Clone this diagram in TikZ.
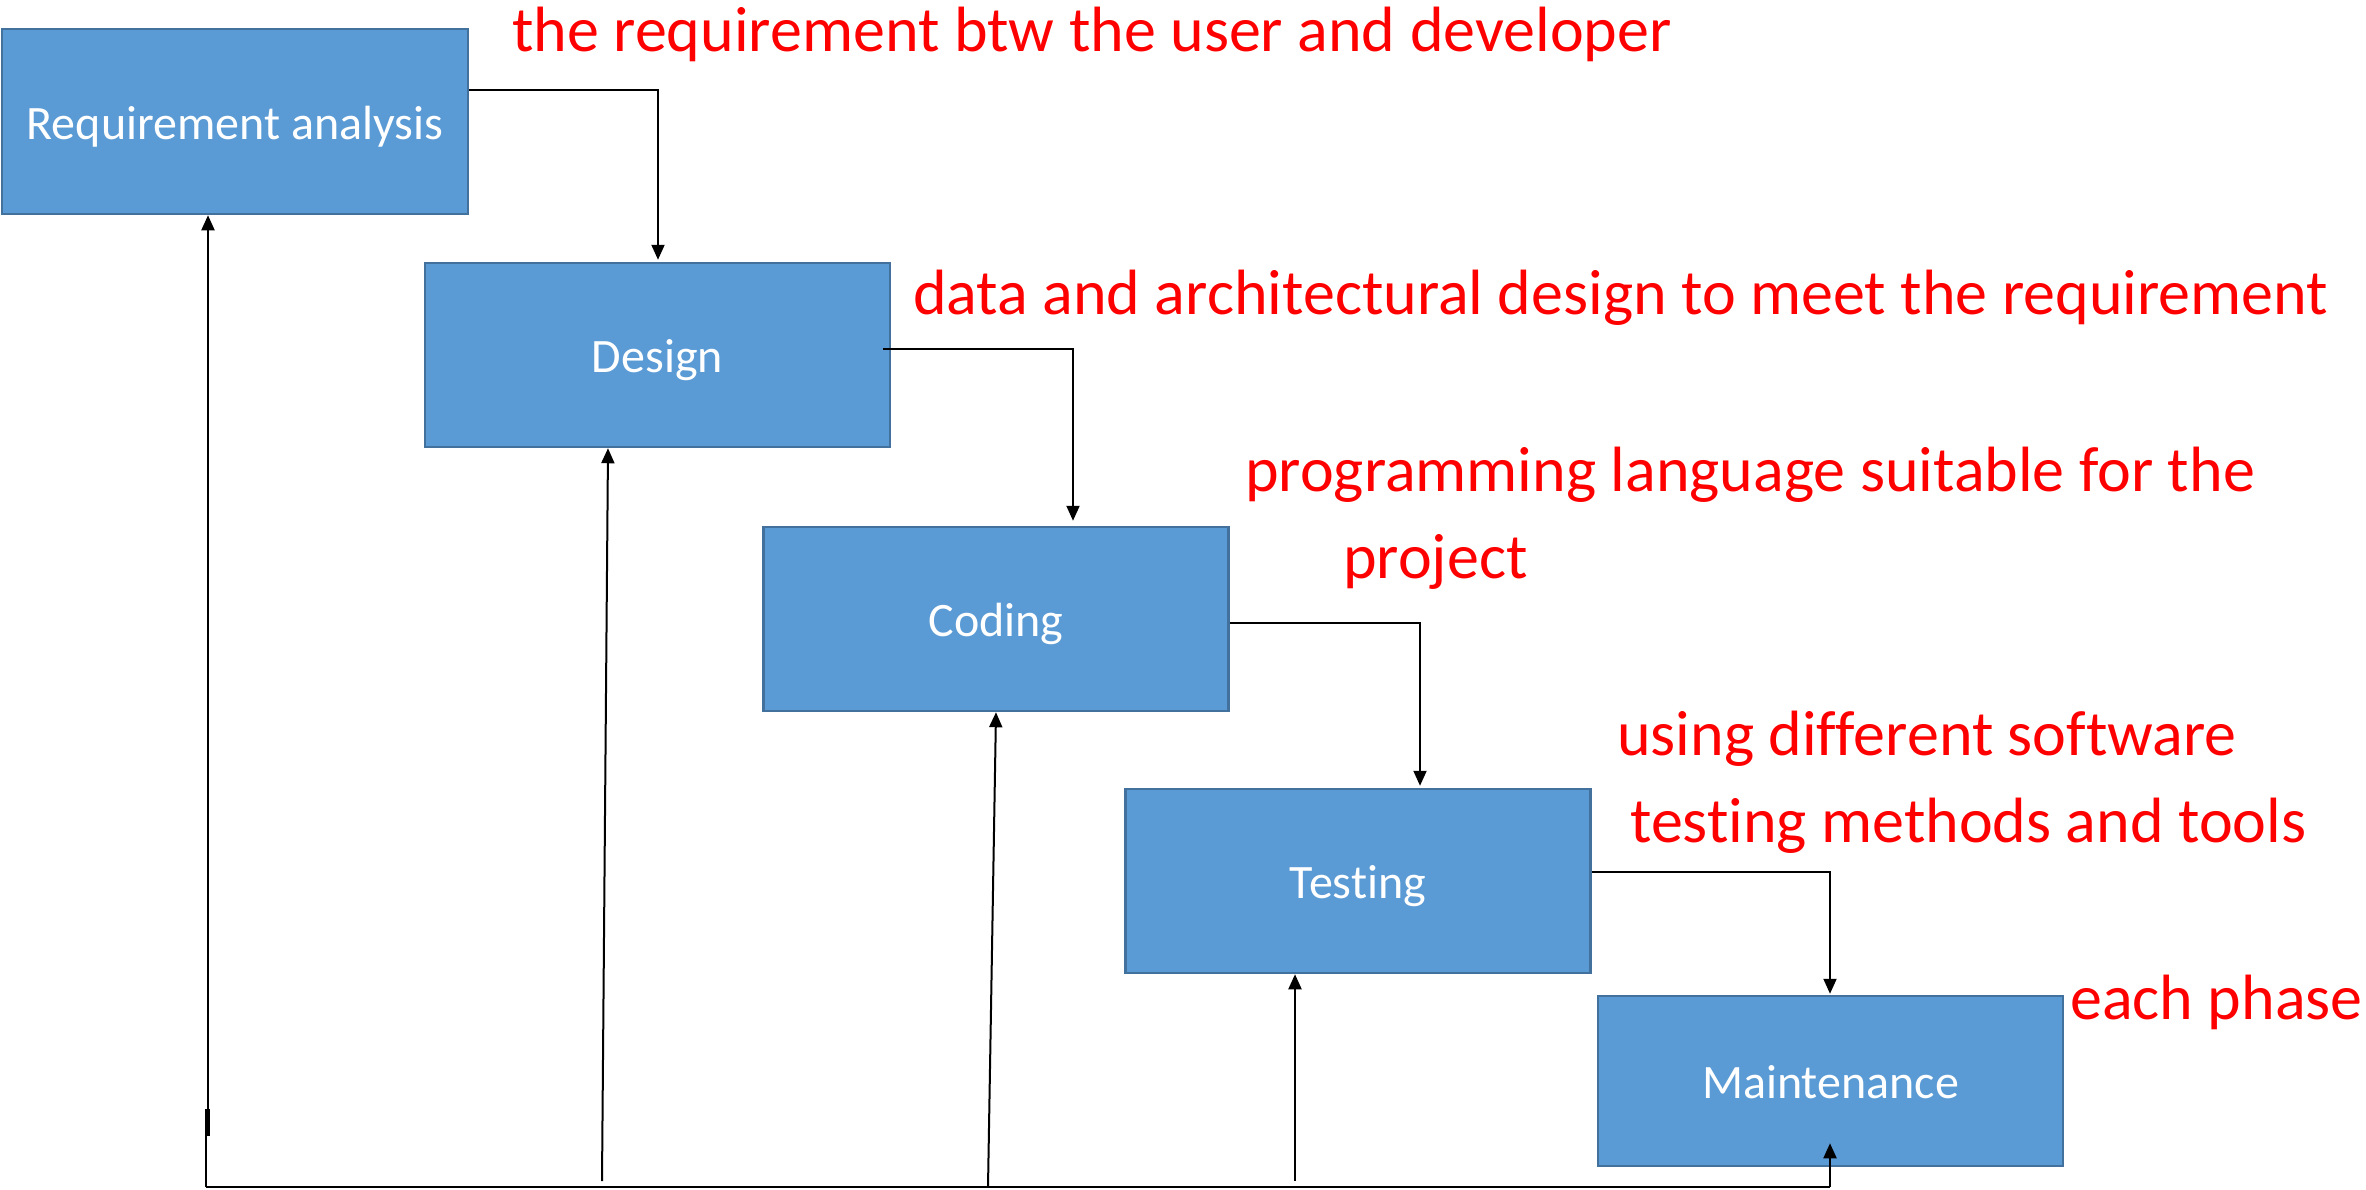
\documentclass[tikz,border=0pt]{standalone}
\usepackage{fontspec}
\setmainfont{Carlito}[RawFeature={-liga;-clig;-dlig;-calt;-rlig}]
\usetikzlibrary{arrows.meta}
\definecolor{phasefill}{HTML}{5B9BD5}
\definecolor{phaseedge}{HTML}{41719C}
\begin{document}
\begin{tikzpicture}[x=1pt,y=-1pt,
  phase/.style={draw=phaseedge, line width=2.5pt, fill=phasefill, text=white,
    font=\fontsize{48}{58}\selectfont, inner sep=0pt, text height=35pt, text depth=0pt,
    minimum width=465pt, minimum height=184pt},
  note/.style={text=red, font=\fontsize{64}{77}\selectfont, anchor=base west, inner sep=0pt},
  line/.style={draw=black, line width=2pt},
  conn/.style={line, -{Triangle[length=15pt,width=13pt]}}]
\useasboundingbox (0,0) rectangle (2366,1189);

% phase boxes
\node[phase, minimum width=466pt, minimum height=185pt] (req) at (235,121.5) {Requirement analysis};
\node[phase] (des) at (657.5,355) {Design};
\node[phase] (cod) at (996,619) {Coding};
\node[phase] (tes) at (1358,881) {Testing};
\node[phase, minimum height=170pt] (mai) at (1830.5,1081) {Maintenance};

% annotations
\node[note] (n1) at (512,51) {the requirement btw the user and developer};
\node[note] (n2) at (913,314) {data and architectural design to meet the requirement};
\node[note] (n3) at (1245,491) {programming language suitable for the};
\node[note] (n4) at (1343,578) {project};
\node[note] (n5) at (1617,755) {using different software};
\node[note] (n6) at (1630,842) {testing methods and tools};
\node[note] (n7) at (2070,1019) {each phase};

% forward flow between phases
\coordinate (c1) at (658,90);
\coordinate (c2) at (1073,348.6);
\coordinate (c3) at (1420,623);
\coordinate (c4) at (1830,872);
\draw[conn] (req.east |- c1) -- (c1) -- ([yshift=2pt]des.north -| c1);
\draw[conn] ([xshift=-8pt]des.east |- c2) -- (c2) -- ([yshift=5pt]cod.north -| c2);
\draw[conn] (cod.east |- c3) -- (c3) -- ([yshift=2pt]tes.north -| c3);
\draw[conn] (tes.east |- c4) -- (c4) -- ([yshift=1pt]mai.north -| c4);

% feedback bus along the bottom
\coordinate (b0) at (206,1187);
\coordinate (b4) at (1830,1187);
\coordinate (k0) at (206,1136);
\coordinate (k1) at (207,1136);
\coordinate (k2) at (207,1109);
\coordinate (f0) at (208,1109);
\coordinate (f1) at (602,1181);
\coordinate (f2) at (988,1187);
\coordinate (f3) at (1295,1181);
\draw[line] (b0) -- (b4);
\draw[conn] (b4) -- ([yshift=24pt]mai.south -| b4);
\draw[line] (b0) -- (k0);
\draw[line width=5pt] (k1) -- (k2);
\draw[conn] (f0) -- (req.south -| f0);
\draw[conn] (f1) -- ([xshift=-49.5pt]des.south);
\draw[conn] (f2) -- (cod.south);
\draw[conn] (f3) -- (tes.south -| f3);
\end{tikzpicture}
\end{document}
